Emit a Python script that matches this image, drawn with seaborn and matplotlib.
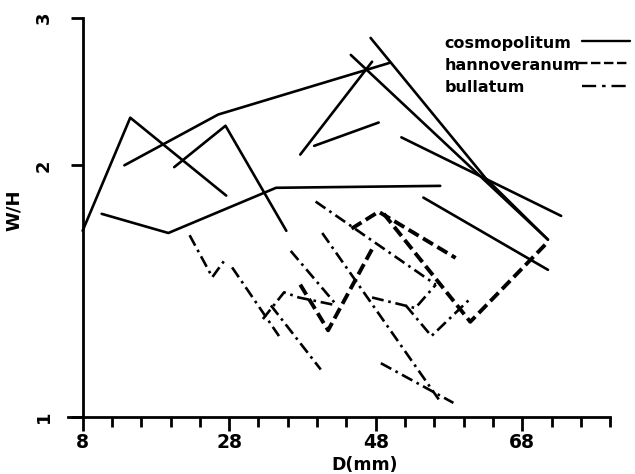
import numpy as np
import pandas as pd
import matplotlib
matplotlib.use('Agg')
import matplotlib.pyplot as plt
import seaborn as sns
from matplotlib.ticker import FixedLocator, NullLocator, MultipleLocator

# --- data: each inner list is one connected trace ---
cosmo_D = [[8.0, 14.5, 27.6],
           [13.7, 26.5, 49.8],
           [20.5, 27.5, 35.8],
           [10.6, 19.7, 34.4, 56.8],
           [37.7, 47.5],
           [39.6, 48.4],
           [47.3, 63.0, 71.5],
           [44.6, 71.5],
           [51.5, 73.3],
           [54.5, 71.5]]
cosmo_WH = [[1.67, 2.28, 1.84],
            [2.00, 2.30, 2.65],
            [1.99, 2.23, 1.67],
            [1.75, 1.66, 1.88, 1.89],
            [2.06, 2.66],
            [2.11, 2.25],
            [2.84, 1.93, 1.63],
            [2.71, 1.63],
            [2.16, 1.74],
            [1.83, 1.50]]

hann_D = [[37.7, 41.5, 47.7],
          [44.7, 48.4, 58.9],
          [49.1, 60.9, 71.5]]
hann_WH = [[1.44, 1.27, 1.60],
           [1.68, 1.76, 1.55],
           [1.75, 1.30, 1.62]]

bull_D = [[22.6, 25.7, 27.6],
          [28.4, 34.8],
          [32.6, 35.5, 37.5, 42.7],
          [33.7, 40.5],
          [36.4, 42.7],
          [39.8, 56.2],
          [47.5, 53.4, 56.2],
          [52.1, 55.6, 60.7],
          [40.7, 56.6],
          [48.7, 58.6]]
bull_WH = [[1.65, 1.47, 1.55],
           [1.51, 1.25],
           [1.31, 1.41, 1.39, 1.36],
           [1.36, 1.14],
           [1.58, 1.36],
           [1.81, 1.44],
           [1.39, 1.35, 1.44],
           [1.36, 1.25, 1.38],
           [1.66, 1.05],
           [1.16, 1.04]]

species = ['cosmopolitum', 'hannoveranum', 'bullatum']
x_major = [8, 28, 48, 68]
y_ticks = [1, 2, 3]

rows = []
for sp, Ds, Ws in zip(species, [cosmo_D, hann_D, bull_D], [cosmo_WH, hann_WH, bull_WH]):
    for i, (d, w) in enumerate(zip(Ds, Ws)):
        for x, y in zip(d, w):
            rows.append({'species': sp, 'seg': f'{sp}_{i}', 'D': x, 'WH': y})
df = pd.DataFrame(rows)

sns.set_style('ticks', {'axes.edgecolor': 'black', 'text.color': 'black',
                        'axes.labelcolor': 'black', 'xtick.color': 'black',
                        'ytick.color': 'black'})
plt.rcParams['font.family'] = ['DejaVu Sans']
plt.rcParams['font.weight'] = 'bold'

fig = plt.figure(figsize=(6.35, 4.74), dpi=100)
ax = fig.add_axes([0.107, 0.120, 0.854, 0.842])

dash_map = {'cosmopolitum': '', 'hannoveranum': (3, 1.3), 'bullatum': (4.5, 1.8, 1, 1.8)}
size_map = {'cosmopolitum': 1.9, 'hannoveranum': 2.8, 'bullatum': 1.9}

sns.lineplot(data=df, x='D', y='WH', hue='species', palette={s: 'black' for s in species},
             style='species', dashes=dash_map, size='species', sizes=size_map,
             units='seg', estimator=None, sort=False, legend=False, ax=ax)

ax.set_yscale('log')
ax.set_ylim(1, 3)
ax.set_xlim(6, 80)

for s in ['top', 'right']:
    ax.spines[s].set_visible(False)
ax.spines['left'].set_position(('data', 8))
for s in ['left', 'bottom']:
    ax.spines[s].set_linewidth(2)
    ax.spines[s].set_color('black')

ax.yaxis.set_major_locator(FixedLocator(y_ticks))
ax.yaxis.set_minor_locator(NullLocator())
ax.set_yticklabels([str(v) for v in y_ticks], rotation=90, va='center', fontsize=13, fontweight='bold')
ax.xaxis.set_major_locator(FixedLocator(x_major))
ax.xaxis.set_minor_locator(MultipleLocator(4))
ax.set_xticklabels([str(v) for v in x_major], fontsize=13.5, fontweight='bold')

ax.tick_params(axis='x', which='major', length=10, width=2, pad=1.5, colors='black')
ax.tick_params(axis='x', which='minor', length=7, width=2, colors='black')
ax.tick_params(axis='y', which='major', length=8.5, width=2, pad=13, colors='black')

ax.set_xlabel('D(mm)', fontsize=12.5, fontweight='bold', color='black')
ax.xaxis.set_label_coords(0.548, -0.098)
ax.set_ylabel('W/H', fontsize=13, fontweight='bold', color='black')
ax.yaxis.set_label_coords(-0.083, 0.519)

# legend: names on the left, line keys on the right
leg_y = [0.937, 0.882, 0.825]
key_dash = [(None, None), (4, 1.5), (6, 2.5, 1.5, 2.5)]
for sp, yy in zip(species, leg_y):
    ax.text(0.694, yy, sp, transform=ax.transAxes, fontsize=11.5, fontweight='bold',
            va='center', ha='left', color='black')
for sp, yy, dsh in zip(species, leg_y, key_dash):
    x0 = 0.94 if sp == 'hannoveranum' else 0.948
    ln, = ax.plot([x0, 1.037], [yy + 0.005, yy + 0.005], transform=ax.transAxes,
                  color='black', lw=1.7, clip_on=False)
    if dsh[0] is not None:
        ln.set_dashes(dsh)

fig.savefig('out.png', dpi=100)
